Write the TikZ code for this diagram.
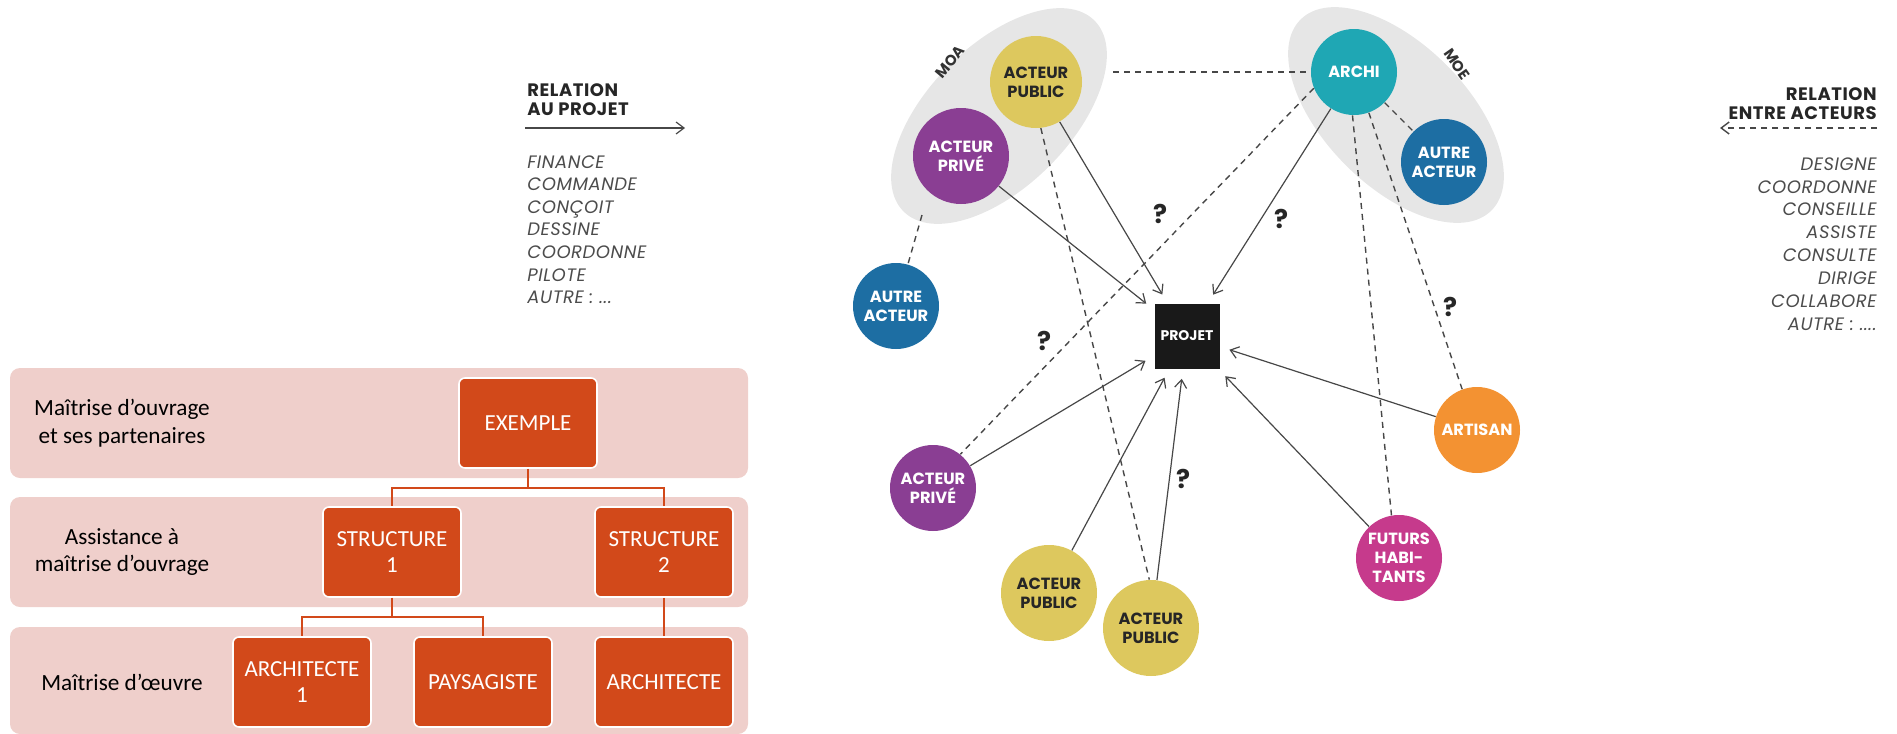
\documentclass[tikz,border=0pt]{standalone}
\usepackage{fontspec}
\usetikzlibrary{arrows.meta,shapes.geometric}
\setmainfont{Carlito}
\newfontfamily\geofont{Poppins}
\newfontfamily\legfont[LetterSpace=3]{Poppins}
\definecolor{orgred}{HTML}{D2491A}
\definecolor{orgband}{HTML}{EFCFCB}
\definecolor{pubcol}{HTML}{DDC85E}
\definecolor{privcol}{HTML}{8A3E93}
\definecolor{autrecol}{HTML}{1D6EA3}
\definecolor{archicol}{HTML}{1FA7B4}
\definecolor{artcol}{HTML}{F39232}
\definecolor{futcol}{HTML}{C63A8C}
\definecolor{groupcol}{HTML}{E6E6E6}
\definecolor{linecol}{HTML}{474747}
\tikzset{
  band/.style={rectangle,fill=orgband,rounded corners=5pt,minimum width=369pt},
  bandlabel/.style={align=center,font=\fontsize{11.6}{13.7}\selectfont},
  orgbox/.style={rectangle,fill=orgred,draw=white,line width=0.8pt,rounded corners=3pt,
    minimum width=69pt,minimum height=45pt,align=center,text=white,
    font=\fontsize{11.5}{13}\selectfont},
  orgline/.style={draw=orgred,line width=1.1pt},
  group/.style={ellipse,fill=groupcol,minimum width=135pt,minimum height=71pt},
  grouplabel/.style={font=\geofont\bfseries\fontsize{7.5}{8}\selectfont,text=black!80},
  actor/.style={circle,minimum size=43pt,align=center,text=white,
    font=\geofont\bfseries\fontsize{8.1}{9.4}\selectfont},
  pub/.style={fill=pubcol,text=black!85},
  priv/.style={fill=privcol},
  autre/.style={fill=autrecol},
  archi/.style={fill=archicol},
  artisan/.style={fill=artcol},
  futurs/.style={fill=futcol},
  projet/.style={rectangle,fill=black!90,minimum size=32.5pt,text=white,
    font=\geofont\bfseries\fontsize{7}{8}\selectfont},
  act/.style={draw=linecol,line width=0.6pt,-{Straight Barb[length=4pt,width=6pt]},shorten >=5pt},
  rel/.style={draw=linecol,line width=0.7pt,dash pattern=on 3pt off 2.5pt},
  qmark/.style={font=\geofont\bfseries\fontsize{13}{14}\selectfont,text=black!85},
  legtitle/.style={font=\legfont\bfseries\fontsize{9}{9.4}\selectfont,text=black!85},
  leglist/.style={align=left,text=black!70,font=\legfont\itshape\fontsize{9}{11.3}\selectfont}
}
\begin{document}
\begin{tikzpicture}
  [x=0.5pt,y=-0.5pt,every node/.style={inner sep=0pt}]
  \useasboundingbox (0,0) rectangle (1897,734);
  \node[band,minimum height=55pt] (b1) at (379,423) {};
  \node[band,minimum height=55pt] (b2) at (379,552) {};
  \node[band,minimum height=53.5pt] (b3) at (379,680.5) {};
  \node[bandlabel] (l1) at (122,423) {Maîtrise d’ouvrage\\et ses partenaires};
  \node[bandlabel] (l2) at (122,552) {Assistance à\\maîtrise d’ouvrage};
  \node[bandlabel] (l3) at (122,682) {Maîtrise d’œuvre};

  \node[orgbox] (ex) at (528,423) {EXEMPLE};
  \node[orgbox] (s1) at (392,552) {STRUCTURE\\1};
  \node[orgbox] (s2) at (664,552) {STRUCTURE\\2};
  \node[orgbox] (a1) at (302,682) {ARCHITECTE\\1};
  \node[orgbox] (pay) at (483,682) {PAYSAGISTE};
  \node[orgbox] (a2) at (664,682) {ARCHITECTE};
  \draw[orgline] (ex.south) -- ++(0,19) -| (s1.north);
  \draw[orgline] (ex.south) -- ++(0,19) -| (s2.north);
  \draw[orgline] (s1.south) -- ++(0,19) -| (a1.north);
  \draw[orgline] (s1.south) -- ++(0,19) -| (pay.north);
  \draw[orgline] (s2) to (a2);

  \node[legtitle,anchor=north west,align=left] (legL) at (527,83) {RELATION\\AU PROJET};
  \coordinate (legLa) at (525,128);
  \coordinate (legLb) at (685,128);
  \draw[act,shorten >=0pt] (legLa) to (legLb);
  \node[leglist,anchor=north west] (listL) at (527,155)
    {FINANCE\\COMMANDE\\CONÇOIT\\DESSINE\\COORDONNE\\PILOTE\\AUTRE : ...};
  \node[legtitle,anchor=north east,align=right] (legR) at (1877,87) {RELATION\\ENTRE ACTEURS};
  \coordinate (legRa) at (1877,128);
  \coordinate (legRb) at (1720,128);
  \draw[rel,-{Straight Barb[length=4pt,width=6pt]}] (legRa) to (legRb);
  \node[leglist,anchor=north east,align=right,font=\legfont\itshape\fontsize{9}{11.45}\selectfont] (listR) at (1877,157)
    {DESIGNE\\COORDONNE\\CONSEILLE\\ASSISTE\\CONSULTE\\DIRIGE\\COLLABORE\\AUTRE : ....};

  \node[group,rotate=45] (moa) at (999,116) {};
  \node[group,rotate=-45] (moe) at (1396,115) {};
  \node[grouplabel,rotate=50] (moal) at (950,62) {MOA};
  \node[grouplabel,rotate=-55] (moel) at (1457,64) {MOE};
  \coordinate (moaR) at (1113,72);
  \coordinate (moaB) at (922,215);

  \node[actor,pub,minimum size=46pt] (pubA) at (1036,82) {ACTEUR\\PUBLIC};
  \node[actor,priv,minimum size=48pt] (privA) at (961,156) {ACTEUR\\PRIVÉ};
  \node[actor,autre] (autreL) at (896,306) {AUTRE\\ACTEUR};
  \node[actor,archi] (archi) at (1354,72) {ARCHI};
  \node[actor,autre] (autreR) at (1444,162) {AUTRE\\ACTEUR};
  \node[projet] (projet) at (1187,336) {PROJET};
  \node[actor,priv] (privB) at (933,488) {ACTEUR\\PRIVÉ};
  \node[actor,pub,minimum size=48pt] (pubB) at (1049,593) {ACTEUR\\PUBLIC};
  \node[actor,pub,minimum size=48pt] (pubC) at (1151,628) {ACTEUR\\PUBLIC};
  \node[actor,futurs] (futurs) at (1399,558) {FUTURS\\HABI-\\TANTS};
  \node[actor,artisan] (artisan) at (1477,430) {ARTISAN};

  \draw[act] (privA) to (projet);
  \draw[act] (pubA) to (projet);
  \draw[act] (archi) to (projet);
  \draw[act] (privB) to (projet);
  \draw[act] (pubB) to (projet);
  \draw[act] (pubC) to (projet);
  \draw[act] (futurs) to (projet);
  \draw[act] (artisan) to (projet);
  \draw[rel] (moaR) to (archi);
  \draw[rel] (archi.202) to (privB.51);
  \draw[rel] (pubA.276) to (pubC.92);
  \draw[rel] (moaB) to (autreL);
  \draw[rel] (archi) to (autreR);
  \draw[rel] (archi.268) to (futurs.100);
  \draw[rel] (archi.290) to (artisan.110);

  \node[qmark] (q1) at (1160,214) {?};
  \node[qmark] (q2) at (1281,219) {?};
  \node[qmark] (q3) at (1044,341) {?};
  \node[qmark] (q4) at (1450,307) {?};
  \node[qmark] (q5) at (1183,479) {?};
\end{tikzpicture}
\end{document}
